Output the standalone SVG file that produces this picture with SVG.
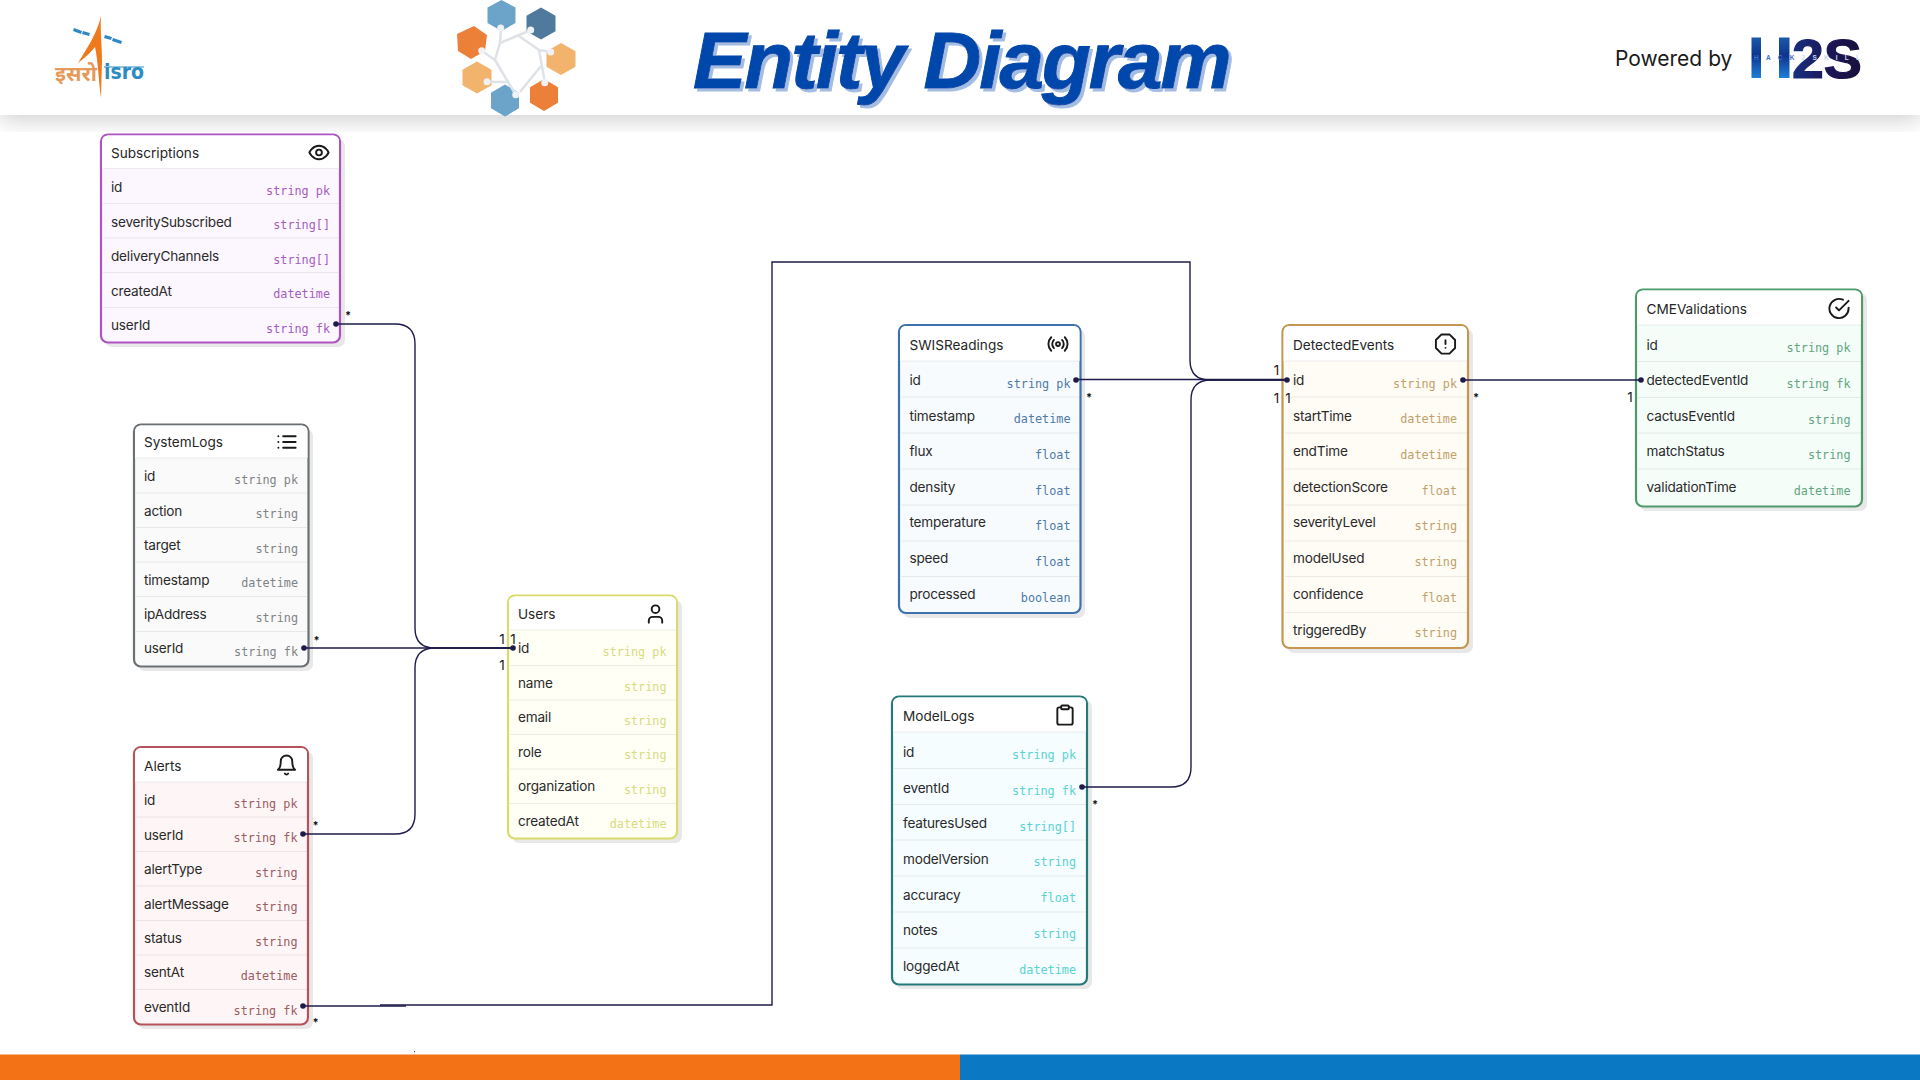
<svg xmlns="http://www.w3.org/2000/svg" width="1920" height="1080" viewBox="0 0 1920 1080">
<defs>
<filter id="hs" x="-5%" y="-100%" width="110%" height="300%"><feGaussianBlur stdDeviation="12"/></filter>
<filter id="ts" x="-5%" y="-20%" width="110%" height="140%"><feDropShadow dx="3" dy="3" stdDeviation="0.3" flood-color="#a3bde2"/></filter>
<linearGradient id="h2s" gradientUnits="userSpaceOnUse" x1="1793" y1="60" x2="1862" y2="60"><stop offset="0" stop-color="#16307e"/><stop offset="0.5" stop-color="#1c1658"/><stop offset="1" stop-color="#17103a"/></linearGradient>
<linearGradient id="hbar" x1="0" y1="0" x2="0" y2="1"><stop offset="0" stop-color="#1b5aa8"/><stop offset="0.45" stop-color="#0e348e"/><stop offset="1" stop-color="#1f80da"/></linearGradient>
<symbol id="i-eye" viewBox="0 0 24 24"><path d="M2 12s3-7 10-7 10 7 10 7-3 7-10 7-10-7-10-7Z"/><circle cx="12" cy="12" r="3"/></symbol>
<symbol id="i-list" viewBox="0 0 24 24"><path d="M8 6h13M8 12h13M8 18h13M3 6h.01M3 12h.01M3 18h.01"/></symbol>
<symbol id="i-user" viewBox="0 0 24 24"><path d="M19 21v-2a4 4 0 0 0-4-4H9a4 4 0 0 0-4 4v2"/><circle cx="12" cy="7" r="4"/></symbol>
<symbol id="i-bell" viewBox="0 0 24 24"><path d="M6 8a6 6 0 0 1 12 0c0 7 3 9 3 9H3s3-2 3-9"/><path d="M10.3 21a1.94 1.94 0 0 0 3.4 0"/></symbol>
<symbol id="i-radio" viewBox="0 0 24 24"><circle cx="12" cy="12" r="2"/><path d="M16.24 7.76a6 6 0 0 1 0 8.49M7.76 16.24a6 6 0 0 1 0-8.49M4.93 19.07a10 10 0 0 1 0-14.14M19.07 4.93a10 10 0 0 1 0 14.14"/></symbol>
<symbol id="i-oct" viewBox="0 0 24 24"><path d="M7.86 2h8.28L22 7.86v8.28L16.14 22H7.86L2 16.14V7.86Z"/><path d="M12 8v4M12 16h.01"/></symbol>
<symbol id="i-clip" viewBox="0 0 24 24"><rect x="8" y="2" width="8" height="4" rx="1"/><path d="M16 4h2a2 2 0 0 1 2 2v14a2 2 0 0 1-2 2H6a2 2 0 0 1-2-2V6a2 2 0 0 1 2-2h2"/></symbol>
<symbol id="i-check" viewBox="0 0 24 24"><path d="M22 11.08V12a10 10 0 1 1-5.93-9.14"/><path d="M22 4 12 14.01l-3-3"/></symbol>
</defs>
<style>
text{font-family:Inter,"Liberation Sans",sans-serif}
.box{stroke-width:2.2}
.sh{fill:#000;fill-opacity:.09}
.sep{stroke:#000;stroke-opacity:.07;stroke-width:1}
.head{fill:#fff}
.title{font-size:13.6px;fill:#262626}
.n{font-size:13.6px;letter-spacing:-.2px;fill:#2a2a2a;transform:translateY(-.5px)}
.t{font-family:"DejaVu Sans Mono","Liberation Mono",monospace;font-size:11.8px;text-anchor:end;transform:translateY(-.5px)}
.ico{fill:none;stroke:#1a1a1a;stroke-width:2;stroke-linecap:round;stroke-linejoin:round}
.c{fill:none;stroke:#1e1b4b;stroke-width:1.4}
.dot{fill:#1e1b4b}
.one{font-size:13.5px;fill:#1a1a1a;text-anchor:middle}
.star{font-size:11px;fill:#111;text-anchor:middle;font-weight:700}
.sub .box{stroke:#ae52c4;fill:#fcf7fe}.sub .t{fill:#a45cc0}
.sys .box{stroke:#6b7075;fill:#fafafa}.sys .t{fill:#7f8388}
.ale .box{stroke:#b5525a;fill:#fef6f6}.ale .t{fill:#9c5c62}
.usr .box{stroke:#d9dc6c;fill:#fffff6}.usr .t{fill:#d8dc7e}
.swi .box{stroke:#3e72ad;fill:#f8fbfe}.swi .t{fill:#4f7aa8}
.det .box{stroke:#c4964f;fill:#fffbf5}.det .t{fill:#bfa16b}
.mod .box{stroke:#26797a;fill:#f5fdff}.mod .t{fill:#5ad2d2}
.cme .box{stroke:#4f9a6b;fill:#f5fdf9}.cme .t{fill:#62a67f}
</style>
<rect width="1920" height="1080" fill="#fff"/>
<g id="header">
<rect x="0" y="100" width="1920" height="16" fill="#b4b4b4" filter="url(#hs)"/>
<rect x="0" y="0" width="1920" height="115" fill="#fff"/>
<g id="isro-logo">
<path d="M101 16 C100 30 102 45 102 60 L101 98 C99 85 98 60 95 47 C91 52 85 58 78 63 C87 48 97 34 101 16Z" fill="#ee7a1c"/>
<path d="M74 28l8 3-1 3-8-3ZM83 31l7 2-1 3-7-2ZM105 35l7 2-1 3-7-2ZM113 38l9 3-1 3-9-3Z" fill="#2f88c4"/>
<text x="55" y="81" font-size="21" font-weight="700" fill="#e59a5a" style="font-family:'Noto Sans','Noto Sans CJK SC',sans-serif">इसरो</text>
<path d="M104 67H144" stroke="#2c8cc2" stroke-width="1.200"/>
<text x="104" y="79" font-size="21" font-weight="700" fill="#2c8cc2" textLength="40" lengthAdjust="spacingAndGlyphs" style="font-family:'DejaVu Sans',sans-serif">isro</text>
</g>
<g id="hex-logo">
<g>
<path d="M501.500 0l14 7.500v15.500l-14 8l-14-8v-15.500Z" fill="#6ba4c8"/>
<path d="M541 7.500l14.500 8.300v15.500l-14.500 8.300l-14.500-8.300v-15.500Z" fill="#4f7a9e"/>
<path d="M474 26l13 9l-2 16l-14 8l-13-8l-1-17Z" fill="#ed8039"/>
<path d="M561 43l14.500 8.300v15.500l-14.500 8.300l-14.500-8.300v-15.500Z" fill="#f2b36c"/>
<path d="M477 61.500l14.500 8.300v15.500l-14.500 8.300l-14.500-8.300v-15.500Z" fill="#f2b36c"/>
<path d="M505 84.500l14 8.300v15.500l-14 8.300l-14-8.300v-15.500Z" fill="#6ba4c8"/>
<path d="M544 79l14 8.300v15.500l-14 8.300l-14-8.300v-15.500Z" fill="#ed8039"/>
</g>
<g fill="none" stroke="#dfe2e6" stroke-width="2.500"><path d="M531 30L500 43L495 60L508 82"/><path d="M501 29L500 43"/><path d="M519 36L539 50L545 83"/><path d="M541 66L520 92"/><path d="M487 82H508L516 95"/><path d="M482 51L495 60"/><path d="M539 50L551 52"/></g>
<g fill="#eef2f5"><circle cx="500.700" cy="28" r="3.500"/><circle cx="530.700" cy="30" r="3.500"/><circle cx="481.700" cy="50.700" r="3.500"/><circle cx="550.700" cy="52" r="3.500"/><circle cx="487" cy="81.700" r="3.500"/><circle cx="515.700" cy="94.700" r="3.500"/><circle cx="544.700" cy="82.700" r="3.500"/></g>
</g>
<text id="title" x="693" y="88" font-size="80" font-weight="700" font-style="italic" fill="#0047ab" stroke="#0047ab" stroke-width="1" letter-spacing="-2" filter="url(#ts)" style="font-family:'Liberation Sans',Arial,sans-serif">Entity Diagram</text>
<text x="1615" y="66" font-size="21" fill="#1a1a1a">Powered by</text>
<g id="h2s-logo">
<rect x="1751.500" y="37.500" width="9.500" height="40.500" fill="url(#hbar)"/>
<rect x="1779" y="37.500" width="10.500" height="40.500" fill="url(#hbar)"/>
<text x="1792" y="77.500" font-size="55" font-weight="700" fill="url(#h2s)" stroke="url(#h2s)" stroke-width="1.200" textLength="70" lengthAdjust="spacingAndGlyphs" style="font-family:'Liberation Sans',sans-serif">2S</text>
<text x="1754" y="59.500" font-size="6.500" font-weight="700" fill="#3a70c4" textLength="106" style="font-family:'Liberation Sans',sans-serif">HACK<tspan fill="#c6d8ec">2SKILL</tspan></text>
</g>
</g>
<g id="Subscriptions" class="sub">
<rect class="sh" x="105" y="139" width="240" height="208" rx="7"/><rect class="box" x="101" y="134.500" width="239" height="208" rx="7"/>
<path class="head" d="M102.100 168.500V141a5.500 5.500 0 0 1 5.500-5.500H333.500a5.500 5.500 0 0 1 5.500 5.500V168.500Z"/>
<path class="sep" d="M103 168.500H338M103 203.500H338M103 238H338M103 272.500H338M103 307.500H338"/>
<text class="title" x="111" y="158">Subscriptions</text><use class="ico" href="#i-eye" x="307.500" y="141" width="23" height="23"/>
<text class="n" x="111" y="192.500">id</text><text class="t" x="330" y="195">string pk</text>
<text class="n" x="111" y="227">severitySubscribed</text><text class="t" x="330" y="229.500">string[]</text>
<text class="n" x="111" y="261.500">deliveryChannels</text><text class="t" x="330" y="264">string[]</text>
<text class="n" x="111" y="296">createdAt</text><text class="t" x="330" y="298.500">datetime</text>
<text class="n" x="111" y="330">userId</text><text class="t" x="330" y="333">string fk</text>
</g>
<g id="SystemLogs" class="sys">
<rect class="sh" x="138" y="429" width="175" height="242" rx="7"/><rect class="box" x="134" y="424.500" width="174.500" height="242" rx="7"/>
<path class="head" d="M135.100 458V431a5.500 5.500 0 0 1 5.500-5.500H302a5.500 5.500 0 0 1 5.500 5.500V458Z"/>
<path class="sep" d="M136 458H307M136 493H307M136 527.500H307M136 562H307M136 596.500H307M136 631.500H307"/>
<text class="title" x="144" y="447">SystemLogs</text><use class="ico" href="#i-list" x="275.500" y="430.500" width="23" height="23"/>
<text class="n" x="144" y="481.500">id</text><text class="t" x="298" y="484">string pk</text>
<text class="n" x="144" y="516">action</text><text class="t" x="298" y="518.500">string</text>
<text class="n" x="144" y="550.500">target</text><text class="t" x="298" y="553">string</text>
<text class="n" x="144" y="585">timestamp</text><text class="t" x="298" y="587.500">datetime</text>
<text class="n" x="144" y="619">ipAddress</text><text class="t" x="298" y="622">string</text>
<text class="n" x="144" y="653.500">userId</text><text class="t" x="298" y="656.500">string fk</text>
</g>
<g id="Alerts" class="ale">
<rect class="sh" x="138" y="751" width="175" height="278" rx="7"/><rect class="box" x="134" y="747" width="174" height="277.500" rx="7"/>
<path class="head" d="M135.100 782V753.500a5.500 5.500 0 0 1 5.500-5.500H301.500a5.500 5.500 0 0 1 5.500 5.500V782Z"/>
<path class="sep" d="M136 782H307M136 817H307M136 851.500H307M136 886H307M136 920.500H307M136 955H307M136 989.500H307"/>
<text class="title" x="144" y="771">Alerts</text><use class="ico" href="#i-bell" x="275" y="753.500" width="23" height="23"/>
<text class="n" x="144" y="805.500">id</text><text class="t" x="297.500" y="808">string pk</text>
<text class="n" x="144" y="840">userId</text><text class="t" x="297.500" y="842.500">string fk</text>
<text class="n" x="144" y="874.500">alertType</text><text class="t" x="297.500" y="877">string</text>
<text class="n" x="144" y="909">alertMessage</text><text class="t" x="297.500" y="911.500">string</text>
<text class="n" x="144" y="943">status</text><text class="t" x="297.500" y="946">string</text>
<text class="n" x="144" y="977.500">sentAt</text><text class="t" x="297.500" y="980.500">datetime</text>
<text class="n" x="144" y="1012">eventId</text><text class="t" x="297.500" y="1015">string fk</text>
</g>
<g id="Users" class="usr">
<rect class="sh" x="512" y="600" width="170" height="243" rx="7"/><rect class="box" x="508" y="595.500" width="169" height="243" rx="7"/>
<path class="head" d="M509.100 630V602a5.500 5.500 0 0 1 5.500-5.500H670.500a5.500 5.500 0 0 1 5.500 5.500V630Z"/>
<path class="sep" d="M510 630H676M510 665.500H676M510 700H676M510 734.500H676M510 769H676M510 803.500H676"/>
<text class="title" x="518" y="619">Users</text><use class="ico" href="#i-user" x="644" y="602.500" width="23" height="23"/>
<text class="n" x="518" y="653.500">id</text><text class="t" x="666.500" y="656.500">string pk</text>
<text class="n" x="518" y="688">name</text><text class="t" x="666.500" y="691">string</text>
<text class="n" x="518" y="722.500">email</text><text class="t" x="666.500" y="725.500">string</text>
<text class="n" x="518" y="757">role</text><text class="t" x="666.500" y="759.500">string</text>
<text class="n" x="518" y="791.500">organization</text><text class="t" x="666.500" y="794">string</text>
<text class="n" x="518" y="826">createdAt</text><text class="t" x="666.500" y="828.500">datetime</text>
</g>
<g id="SWISReadings" class="swi">
<rect class="sh" x="903" y="329" width="182" height="289" rx="7"/><rect class="box" x="899" y="325" width="181.500" height="288" rx="7"/>
<path class="head" d="M900.100 361V331.500a5.500 5.500 0 0 1 5.500-5.500H1074a5.500 5.500 0 0 1 5.500 5.500V361Z"/>
<path class="sep" d="M901 361H1079M901 397H1079M901 433H1079M901 469H1079M901 505H1079M901 541H1079M901 576.500H1079"/>
<text class="title" x="909.500" y="350">SWISReadings</text><use class="ico" href="#i-radio" x="1046.500" y="332.500" width="23" height="23"/>
<text class="n" x="909.500" y="385">id</text><text class="t" x="1070.500" y="388">string pk</text>
<text class="n" x="909.500" y="421">timestamp</text><text class="t" x="1070.500" y="423.500">datetime</text>
<text class="n" x="909.500" y="456.500">flux</text><text class="t" x="1070.500" y="459">float</text>
<text class="n" x="909.500" y="492">density</text><text class="t" x="1070.500" y="495">float</text>
<text class="n" x="909.500" y="527.500">temperature</text><text class="t" x="1070.500" y="530.500">float</text>
<text class="n" x="909.500" y="563">speed</text><text class="t" x="1070.500" y="566">float</text>
<text class="n" x="909.500" y="599">processed</text><text class="t" x="1070.500" y="602">boolean</text>
</g>
<g id="DetectedEvents" class="det">
<rect class="sh" x="1287" y="329" width="186" height="324" rx="7"/><rect class="box" x="1282.500" y="325" width="185.500" height="323" rx="7"/>
<path class="head" d="M1283.600 361V331.500a5.500 5.500 0 0 1 5.500-5.500H1461.500a5.500 5.500 0 0 1 5.500 5.500V361Z"/>
<path class="sep" d="M1285 361H1467M1285 397H1467M1285 433H1467M1285 469H1467M1285 505H1467M1285 541H1467M1285 576.500H1467M1285 612.500H1467"/>
<text class="title" x="1293" y="350">DetectedEvents</text><use class="ico" href="#i-oct" x="1434" y="332.500" width="23" height="23"/>
<text class="n" x="1293" y="385">id</text><text class="t" x="1457" y="388">string pk</text>
<text class="n" x="1293" y="421">startTime</text><text class="t" x="1457" y="423.500">datetime</text>
<text class="n" x="1293" y="456.500">endTime</text><text class="t" x="1457" y="459">datetime</text>
<text class="n" x="1293" y="492">detectionScore</text><text class="t" x="1457" y="495">float</text>
<text class="n" x="1293" y="527.500">severityLevel</text><text class="t" x="1457" y="530.500">string</text>
<text class="n" x="1293" y="563">modelUsed</text><text class="t" x="1457" y="566">string</text>
<text class="n" x="1293" y="599">confidence</text><text class="t" x="1457" y="602">float</text>
<text class="n" x="1293" y="635">triggeredBy</text><text class="t" x="1457" y="637.500">string</text>
</g>
<g id="ModelLogs" class="mod">
<rect class="sh" x="896" y="700" width="196" height="289" rx="7"/><rect class="box" x="892" y="696.500" width="195" height="288" rx="7"/>
<path class="head" d="M893.100 732V703a5.500 5.500 0 0 1 5.500-5.500H1080.500a5.500 5.500 0 0 1 5.500 5.500V732Z"/>
<path class="sep" d="M894 732H1086M894 768.500H1086M894 804.500H1086M894 840H1086M894 876H1086M894 912H1086M894 948H1086"/>
<text class="title" x="903" y="721">ModelLogs</text><use class="ico" href="#i-clip" x="1053.500" y="703.500" width="23" height="23"/>
<text class="n" x="903" y="757">id</text><text class="t" x="1076" y="759.500">string pk</text>
<text class="n" x="903" y="793">eventId</text><text class="t" x="1076" y="795">string fk</text>
<text class="n" x="903" y="828">featuresUsed</text><text class="t" x="1076" y="831">string[]</text>
<text class="n" x="903" y="864">modelVersion</text><text class="t" x="1076" y="866.500">string</text>
<text class="n" x="903" y="900">accuracy</text><text class="t" x="1076" y="902.500">float</text>
<text class="n" x="903" y="935.500">notes</text><text class="t" x="1076" y="938">string</text>
<text class="n" x="903" y="971.500">loggedAt</text><text class="t" x="1076" y="974">datetime</text>
</g>
<g id="CMEValidations" class="cme">
<rect class="sh" x="1640" y="293" width="227" height="218" rx="7"/><rect class="box" x="1636" y="289.500" width="226" height="217" rx="7"/>
<path class="head" d="M1637.100 325V296a5.500 5.500 0 0 1 5.500-5.500H1855.500a5.500 5.500 0 0 1 5.500 5.500V325Z"/>
<path class="sep" d="M1638 325H1861M1638 361.500H1861M1638 397.500H1861M1638 433H1861M1638 469H1861"/>
<text class="title" x="1646.500" y="314">CMEValidations</text><use class="ico" href="#i-check" x="1827.500" y="297" width="23" height="23"/>
<text class="n" x="1646.500" y="350">id</text><text class="t" x="1850.500" y="352.500">string pk</text>
<text class="n" x="1646.500" y="385.500">detectedEventId</text><text class="t" x="1850.500" y="388.500">string fk</text>
<text class="n" x="1646.500" y="421">cactusEventId</text><text class="t" x="1850.500" y="424">string</text>
<text class="n" x="1646.500" y="456.500">matchStatus</text><text class="t" x="1850.500" y="459.500">string</text>
<text class="n" x="1646.500" y="492">validationTime</text><text class="t" x="1850.500" y="495">datetime</text>
</g>
<g id="connectors">
<path class="c" d="M336 324H395Q415 324 415 344V628Q415 648 435 648H513"/>
<path class="c" d="M304 648H513"/>
<path class="c" d="M303 834H395Q415 834 415 814V668Q415 648 435 648H513"/>
<path class="c" d="M303 1006H406"/>
<path class="c" d="M380 1005H772V262H1190V360Q1190 380 1210 380H1287"/>
<path class="c" d="M1076 379.500H1287"/>
<path class="c" d="M1082 787H1171Q1191 787 1191 767V400Q1191 380 1211 380H1287"/>
<path class="c" d="M1463 380H1641"/>
<g class="dot"><circle cx="336" cy="324" r="2.800"/><circle cx="304" cy="648" r="2.800"/><circle cx="513" cy="648" r="2.800"/><circle cx="303" cy="834" r="2.800"/><circle cx="303" cy="1006" r="2.800"/><circle cx="1076" cy="380" r="2.800"/><circle cx="1287" cy="380" r="2.800"/><circle cx="1082" cy="787" r="2.800"/><circle cx="1463" cy="380" r="2.800"/><circle cx="1641" cy="380" r="2.800"/><circle cx="414.600" cy="1051.700" r="0.600"/></g>
<g class="star"><text x="348" y="319">*</text><text x="316.500" y="644">*</text><text x="315.500" y="829">*</text><text x="315.500" y="1026">*</text><text x="1089" y="401">*</text><text x="1476" y="401">*</text><text x="1095" y="808">*</text></g>
<g class="one"><text x="502" y="644">1</text><text x="513" y="644">1</text><text x="502" y="670">1</text><text x="1276.600" y="375">1</text><text x="1276.600" y="402.500">1</text><text x="1288" y="402.500">1</text><text x="1630" y="402">1</text></g>
</g>
<rect x="0" y="1054.500" width="960" height="25.500" fill="#f47216"/>
<rect x="960" y="1054.500" width="960" height="25.500" fill="#0a78c2"/>
</svg>
